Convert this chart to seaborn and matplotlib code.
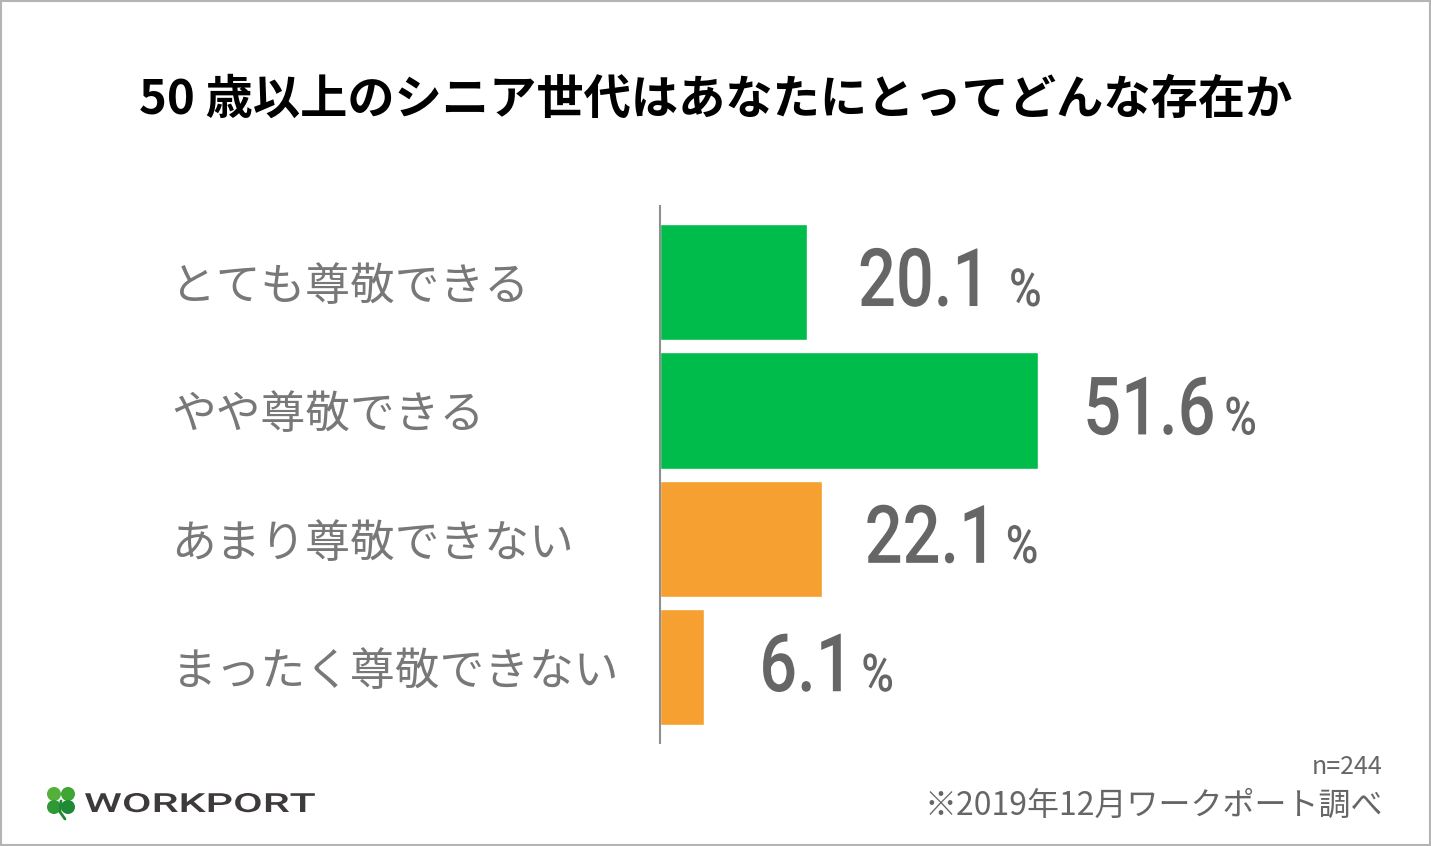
import matplotlib
matplotlib.use("Agg")
import matplotlib.pyplot as plt
import matplotlib.patheffects as pe
from matplotlib.patches import Circle, Rectangle
from matplotlib.transforms import Affine2D
import pandas as pd
import seaborn as sns

# Datos del grafico
categorias = ["とても尊敬できる", "やや尊敬できる", "あまり尊敬できない", "まったく尊敬できない"]
valores = [20.1, 51.6, 22.1, 6.1]
grupos = ["尊敬できる", "尊敬できる", "尊敬できない", "尊敬できない"]
titulo = "50 歳以上のシニア世代はあなたにとってどんな存在か"
nota_n = "n=244"
nota_fuente = "※2019年12月ワークポート調べ"

WIDTH, HEIGHT = 1431, 846
GRIS_TEXTO = "#787878"
GRIS_VALOR = "#666666"


# Estira el texto sin convertirlo en otra cosa
class Estirar(pe.AbstractPathEffect):
    def __init__(self, sx=1, sy=1):
        super().__init__()
        self.sx = sx
        self.sy = sy

    def draw_path(self, renderer, gc, tpath, affine, rgbFace=None):
        renderer.draw_path(gc, tpath, Affine2D().scale(self.sx, self.sy) + affine, rgbFace)


sns.set_theme(style="white")
plt.rcParams["font.family"] = ["Noto Sans CJK JP", "DejaVu Sans"]

df = pd.DataFrame({"categoria": categorias, "valor": valores, "grupo": grupos})

fig = plt.figure(figsize=(WIDTH / 100, HEIGHT / 100), dpi=100, facecolor="white")

# Capa en pixeles para marco, titulo, notas y logo
capa = fig.add_axes([0, 0, 1, 1])
capa.set_xlim(0, WIDTH)
capa.set_ylim(HEIGHT, 0)
capa.axis("off")

# Ejes de las barras
izq = 659.5
ax = fig.add_axes([izq / WIDTH, 1 - 743 / HEIGHT, 1 - izq / WIDTH, (743 - 206) / HEIGHT])
ax.patch.set_alpha(0)
sns.barplot(data=df, x="valor", y="categoria", hue="grupo", dodge=False, legend=False,
            palette={"尊敬できる": "#00BC4B", "尊敬できない": "#F5A031"},
            width=0.905, saturation=1, ax=ax)
ax.set_xlim(0, (WIDTH - izq) / 7.34)
ax.set_ylim(3.59, -0.592)
ax.set_xlabel("")
ax.set_ylabel("")
ax.set_xticks([])
sns.despine(ax=ax, top=True, right=True, bottom=True)
ax.spines["left"].set_color("#8f8f8f")
ax.spines["left"].set_linewidth(1.5)

# Etiquetas de categoria alineadas a la izquierda
ax.tick_params(axis="y", length=0, pad=(izq - 171.5) * 0.72)
for lab in ax.get_yticklabels():
    lab.set_ha("left")
    lab.set_fontsize(32.2)
    lab.set_color(GRIS_TEXTO)

# Valores y signo de porcentaje, separacion en pixeles desde el final de la barra
sep_valor = [51, 45, 43, 55]
sep_pct = [202, 186, 184, 157]
for i, v in enumerate(valores):
    ax.annotate(f"{v}", (v, i), xytext=(sep_valor[i] * 0.72, -24 * 0.72),
                textcoords="offset points", ha="left", va="baseline",
                fontsize=48, color=GRIS_VALOR, family="Roboto", fontweight="medium",
                path_effects=[Estirar(sy=1.21)])
    ax.annotate("%", (v, i), xytext=(sep_pct[i] * 0.72, -24 * 0.72),
                textcoords="offset points", ha="left", va="baseline",
                fontsize=32, color=GRIS_VALOR, family="Roboto", fontweight="medium",
                path_effects=[Estirar(sy=1.18)])

# Marco y textos
capa.add_patch(Rectangle((1, 1), WIDTH - 2, HEIGHT - 2, fill=False, ec="#b4b4b4", lw=1.5))
capa.text(716, 114, titulo, ha="center", va="baseline", fontsize=34, fontweight="bold", color="#000000")
capa.text(1383, 774, nota_n, ha="right", va="baseline", fontsize=18, color=GRIS_VALOR)
capa.text(1383, 815, nota_fuente, ha="right", va="baseline", fontsize=23, color=GRIS_VALOR)

# Logo: trebol de cuatro hojas y nombre
hojas = [(54, 794, "#55b03a"), (68, 794, "#3fa535"), (54, 807, "#2f9a35"), (68, 807, "#1f8a35")]
for cx, cy, color in hojas:
    capa.add_patch(Circle((cx, cy), 7, color=color, lw=0))
capa.plot([61, 60, 65], [801, 812, 819], color="#1f8a35", lw=2, solid_capstyle="round")
capa.text(84, 812, "WORKPORT", ha="left", va="baseline", fontsize=19, fontweight="medium",
          family="Roboto", color="#3e3a39", path_effects=[Estirar(sx=1.63)])

fig.savefig("out.png", dpi=100, facecolor="white")
